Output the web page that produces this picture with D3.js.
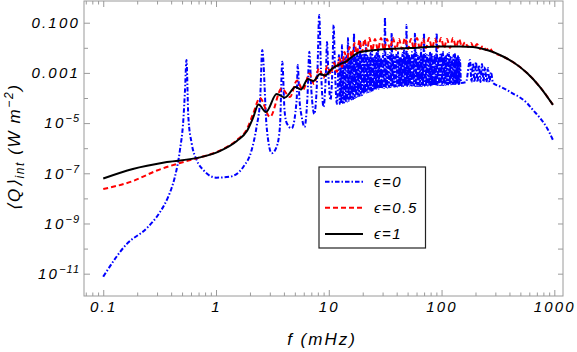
<!DOCTYPE html>
<html>
<head>
<meta charset="utf-8">
<script src="https://cdn.jsdelivr.net/npm/d3@7"></script>
<style>
	body { margin: 0; background: #fff; }
	text { font-family: "Liberation Sans", Arial, sans-serif; font-style: italic; fill: #000; }
</style>
</head>
<body>
<div id="chart"></div>
<script>
/* DATA */

// x ticks (mHz)
const freqTicks = [0.1, 1, 10, 100, 1000];
const freqTickLabels = ["0.1", "1", "10", "100", "1000"];

// y ticks (W m^-2), labelled every second decade
const powerTicks = [1e-1, 1e-3, 1e-5, 1e-7, 1e-9, 1e-11];
const powerTickBase = ["0.100", "0.001", "10", "10", "10", "10"];
const powerTickExp = ["", "", "\u22125", "\u22127", "\u22129", "\u221211"];
const powerMinor = [1e-2, 1e-4, 1e-6, 1e-8, 1e-10];

const legendNames = ["\u03f5=0", "\u03f5=0.5", "\u03f5=1"];

// eps = 0, [f (mHz), <Q>int]
const eps0 = [
	[0.1, 7.6e-12], [0.161, 1.5e-10], [0.243, 6.5e-10], [0.318, 2.8e-9],
	[0.375, 1.1e-8], [0.404, 2.6e-8], [0.433, 7.5e-8], [0.479, 8.5e-7],
	[0.513, 1.33e-5], [0.531, 2.08e-4], [0.547, 3.3e-3], [0.568, 1.8e-5],
	[0.608, 1.57e-6], [0.673, 3.4e-7], [0.771, 1.35e-7], [1.01, 6.7e-8],
	[1.33, 7.3e-8], [1.75, 1.83e-7], [2.07, 8.5e-7], [2.29, 7.2e-6],
	[2.46, 8.3e-5], [2.57, 8.2e-3], [2.81, 7.2e-6], [3.12, 6.3e-7],
	[3.45, 1.15e-6], [3.69, 7.2e-6], [3.87, 2.8e-3], [4.05, 3.3e-5],
	[4.24, 9.8e-6], [4.69, 6.2e-6], [5.19, 8.3e-5], [5.3, 2.06e-3],
	[5.5, 8.3e-5], [5.75, 1.8e-5], [6.09, 7.0e-6], [6.48, 1.32e-4],
	[6.72, 7.0e-3], [7.0, 2.08e-4], [7.44, 2.3e-5], [7.94, 1.31e-3],
	[8.22, 0.203], [8.53, 1.31e-3], [8.98, 4.4e-5], [9.45, 1.31e-3],
	[9.64, 0.017], [9.93, 8.2e-4], [10.35, 8.3e-5], [10.8, 2.06e-3],
	[11.04, 0.081], [11.35, 1.31e-3], [11.8, 5.8e-5],
	[12.32, 5.2e-3], [12.51, 5.8e-5], [12.7, 2.7e-3], [12.9, 6.0e-5],
	[13.09, 0.0129], [13.3, 6.3e-5], [13.5, 3.3e-3], [13.71, 6.6e-5],
	[13.92, 3.9e-3], [14.13, 6.8e-5], [14.35, 4.7e-3], [14.57, 7.2e-5],
	[14.8, 0.0246], [15.03, 7.8e-5], [15.26, 3.3e-3], [15.5, 8.3e-5],
	[15.73, 6.8e-3], [15.98, 8.8e-5], [16.23, 3.9e-3], [16.48, 9.1e-5],
	[16.73, 0.039], [16.99, 1.0e-4], [17.25, 4.7e-3], [17.52, 1.1e-4],
	[17.79, 9.8e-3], [18.06, 1.15e-4], [18.34, 4.3e-3], [18.62, 1.2e-4],
	[18.91, 0.0205], [19.2, 1.26e-4], [19.5, 5.7e-3], [19.8, 1.32e-4],
	[20.11, 5.2e-3], [20.42, 1.45e-4], [20.73, 6.8e-3], [21.05, 1.58e-4],
	[21.38, 0.0129], [21.71, 1.65e-4], [22.04, 4.7e-3], [22.38, 1.73e-4],
	[22.73, 3.9e-3], [23.08, 1.8e-4], [23.43, 6.2e-3], [23.79, 1.9e-4],
	[24.16, 8.2e-3], [24.54, 2.0e-4], [24.92, 4.3e-3], [25.3, 2.08e-4],
	[25.69, 4.7e-3], [26.09, 2.2e-4], [26.49, 6.2e-3], [26.9, 2.3e-4],
	[27.31, 9.8e-3], [27.73, 2.35e-4], [28.16, 4.7e-3], [28.6, 2.4e-4],
	[29.04, 3.9e-3], [29.6, 2.45e-4], [30.25, 5.7e-3], [30.9, 2.5e-4],
	[31.5, 0.169], [32.0, 2.55e-4], [32.48, 4.3e-3], [33.0, 2.6e-4],
	[33.5, 5.2e-3], [34.2, 2.7e-4], [34.89, 6.2e-3], [35.5, 2.74e-4],
	[36.13, 0.039], [36.7, 2.74e-4], [37.33, 5.2e-3], [38.0, 2.8e-4],
	[38.65, 4.3e-3], [39.25, 2.87e-4], [39.86, 5.7e-3], [40.5, 2.87e-4],
	[41.1, 6.8e-3], [41.7, 2.87e-4], [42.36, 4.3e-3], [43.0, 2.95e-4],
	[43.69, 3.9e-3], [44.35, 3.0e-4], [45.05, 6.2e-3], [45.75, 3.0e-4],
	[46.45, 8.2e-3], [47.1, 3.0e-4], [47.7, 4.7e-3], [48.3, 3.0e-4],
	[48.89, 0.081], [49.55, 3.0e-4], [50.2, 5.7e-3], [50.8, 3.1e-4],
	[51.43, 5.2e-3], [52.2, 3.15e-4], [53.03, 4.3e-3], [53.85, 3.15e-4],
	[54.68, 6.8e-3], [55.5, 3.15e-4], [56.38, 5.2e-3], [57.25, 3.1e-4],
	[58.13, 0.039], [59.0, 3.0e-4], [59.94, 6.2e-3], [60.85, 3.0e-4],
	[61.8, 4.7e-3], [62.75, 3.0e-4], [63.72, 4.3e-3], [64.7, 3.0e-4],
	[65.7, 8.2e-3], [66.7, 3.0e-4], [67.75, 5.2e-3], [68.8, 3.0e-4],
	[69.85, 0.039], [70.9, 3.0e-4], [72.02, 5.7e-3], [73.1, 3.1e-4],
	[74.26, 5.2e-3], [75.4, 3.15e-4], [76.57, 4.7e-3], [77.75, 3.15e-4],
	[78.95, 6.8e-3], [80.15, 3.15e-4], [81.4, 6.2e-3], [82.65, 3.15e-4],
	[83.95, 4.3e-3], [85.5, 3.15e-4], [87.1, 5.2e-3], [88.8, 3.2e-4],
	[90.56, 0.039], [92.0, 3.3e-4], [93.57, 4.3e-3], [95.2, 3.3e-4],
	[96.87, 5.2e-3], [98.35, 3.3e-4], [99.88, 6.2e-3], [101.4, 3.3e-4],
	[103.0, 6.8e-3], [104.6, 3.3e-4], [106.2, 4.7e-3], [107.8, 3.4e-4],
	[109.5, 4.7e-3], [111.2, 3.45e-4], [112.9, 5.7e-3], [114.6, 3.45e-4],
	[116.4, 6.2e-3], [118.2, 3.45e-4], [120.1, 4.3e-3], [121.9, 3.5e-4],
	[123.8, 3.9e-3], [125.7, 3.6e-4], [127.6, 5.2e-3], [129.6, 3.6e-4],
	[131.6, 5.7e-3], [133.6, 3.6e-4], [135.7, 4.3e-3], [137.8, 3.6e-4],
	[139.9, 4.7e-3], [141.3, 3.6e-4], [142.8, 3.9e-3], [144.2, 3.7e-4],
	[145.7, 3.3e-3], [148.8, 4.0e-4], [164.8, 4.3e-4], [178.8, 3.3e-3],
	[184.4, 4.3e-4], [190.1, 2.5e-3], [196.0, 4.3e-4], [202.1, 2.7e-3],
	[208.4, 4.3e-4], [214.8, 2.06e-3], [221.5, 4.3e-4], [228.4, 2.26e-3],
	[235.5, 4.3e-4], [242.8, 1.72e-3], [250.3, 4.3e-4], [258.1, 1.57e-3],
	[266.2, 4.3e-4], [274.4, 1.09e-3], [285.9, 4.0e-4], [329.9, 2.87e-4],
	[380.6, 2.08e-4], [430.1, 1.51e-4], [496.3, 1.05e-4], [572.5, 6.3e-5],
	[647.1, 3.3e-5], [746.6, 1.6e-5], [861.4, 6.4e-6], [973.6, 2.1e-6]
];

// eps = 0.5
const eps05 = [
	[0.1, 2.37e-8], [0.183, 4.9e-8], [0.299, 1.29e-7], [0.479, 2.57e-7],
	[0.72, 4.3e-7], [1.08, 8.0e-7], [1.53, 2.12e-6], [1.88, 5.8e-6],
	[2.13, 2.3e-5], [2.45, 1.0e-4], [3.01, 1.75e-5], [3.82, 2.39e-4],
	[4.53, 1.1e-4], [5.22, 4.98e-4], [5.9, 2.08e-4], [6.75, 9.5e-4],
	[7.39, 3.6e-4], [8.18, 1.5e-3], [8.97, 6.3e-4], [9.73, 1.88e-3],
	[10.4, 9.0e-4], [11.1, 2.48e-3], [11.82, 1.09e-3], [12.44, 3.9e-3],
	[13.09, 1.72e-3], [13.78, 6.8e-3], [14.5, 2.7e-3], [15.26, 0.0108],
	[16.06, 4.3e-3], [16.9, 0.0155], [17.79, 5.7e-3], [18.72, 0.0205],
	[19.7, 6.8e-3], [20.73, 0.0224], [21.82, 7.5e-3], [22.96, 0.0246],
	[24.16, 7.5e-3], [25.69, 0.0224], [27.31, 8.2e-3], [29.04, 0.0246],
	[30.87, 8.2e-3], [32.81, 0.0224], [34.89, 9.0e-3], [37.09, 0.0246],
	[39.43, 8.2e-3], [41.93, 0.0224], [44.57, 9.0e-3], [47.39, 0.0246],
	[50.4, 9.0e-3], [53.58, 0.0224], [56.96, 9.0e-3], [60.56, 0.0246],
	[64.38, 9.0e-3], [68.45, 0.0224], [72.78, 9.8e-3], [77.37, 0.0246],
	[82.26, 9.8e-3], [87.46, 0.0224], [92.99, 9.8e-3], [98.87, 0.0246],
	[105.1, 9.8e-3], [111.8, 0.0224], [118.8, 9.8e-3], [126.3, 0.0246],
	[134.3, 0.0108], [142.8, 0.0224], [151.8, 0.0108], [161.4, 0.017],
	[171.6, 0.0108], [182.5, 0.0155], [194.0, 9.8e-3], [206.2, 0.0142],
	[219.3, 9.0e-3], [233, 0.0118], [247.9, 8.2e-3], [263.6, 9.8e-3],
	[286, 6.8e-3], [351, 4.5e-3], [430, 2.7e-3], [573, 9.9e-4],
	[747, 2.74e-4], [973, 5.3e-5]
];

// eps = 1
const eps1 = [
	[0.1, 6.2e-8], [0.183, 1.48e-7], [0.367, 2.8e-7], [0.72, 4.3e-7],
	[1.08, 7.7e-7], [1.53, 1.94e-6], [1.88, 4.8e-6], [2.13, 1.6e-5],
	[2.38, 5.5e-5], [2.77, 2.77e-5], [3.45, 1.44e-4], [4.09, 1.05e-4],
	[5.07, 2.74e-4], [5.66, 2.18e-4], [6.54, 5.7e-4], [7.31, 4.75e-4],
	[8.36, 9.0e-4], [9.25, 7.9e-4], [10.6, 1.43e-3], [12.6, 2.26e-3],
	[14.5, 2.98e-3], [16.4, 4.7e-3], [18.9, 6.8e-3], [28.4, 8.55e-3],
	[52.5, 9.8e-3], [96.9, 1.13e-2], [146, 1.13e-2], [190, 1.08e-2],
	[233, 8.95e-3], [286, 6.8e-3], [351, 4.5e-3], [430, 2.72e-3],
	[573, 9.9e-4], [747, 2.74e-4], [973, 5.3e-5]
];

/* SET UP */

const w = 577;
const h = 352;
const m = { top: 1, right: 14, bottom: 56, left: 84 };
const frameColor = "#9a9a9a";

const svg = d3
	.select("#chart")
	.append("svg")
	.attr("width", w)
	.attr("height", h);

const x = d3.scaleLog().domain([0.0675, 1194]).range([m.left, w - m.right]);
const y = d3.scaleLog().domain([1.29e-12, 0.733]).range([h - m.bottom, m.top]);

const x0 = m.left, x1 = w - m.right, y0 = h - m.bottom, y1 = m.top;

/* AXES */

function tidy(g) {
	g.select(".domain").remove();
	g.selectAll("line").attr("stroke", frameColor);
}

const xMinor = x.ticks().filter((d) => !freqTicks.includes(d));

// bottom
svg.append("g")
	.attr("transform", `translate(0,${y0})`)
	.call(d3.axisBottom(x).tickValues(xMinor).tickSizeInner(-3.5).tickSizeOuter(0).tickFormat(""))
	.call(tidy);

svg.append("g")
	.attr("transform", `translate(0,${y0})`)
	.call(d3.axisBottom(x).tickValues(freqTicks).tickSizeInner(-6).tickSizeOuter(0).tickPadding(5)
		.tickFormat((d, i) => freqTickLabels[i]))
	.call(tidy)
	.call((g) => g.selectAll("text")
		.attr("font-size", 15)
		.attr("letter-spacing", 2.2)
		.attr("fill", "#000")
		.attr("font-family", null));

// top
svg.append("g")
	.attr("transform", `translate(0,${y1})`)
	.call(d3.axisTop(x).tickValues(xMinor).tickSizeInner(-3.5).tickSizeOuter(0).tickFormat(""))
	.call(tidy);
svg.append("g")
	.attr("transform", `translate(0,${y1})`)
	.call(d3.axisTop(x).tickValues(freqTicks).tickSizeInner(-6).tickSizeOuter(0).tickFormat(""))
	.call(tidy);

// left
svg.append("g")
	.attr("transform", `translate(${x0},0)`)
	.call(d3.axisLeft(y).tickValues(powerMinor).tickSizeInner(-4).tickSizeOuter(0).tickFormat(""))
	.call(tidy);
svg.append("g")
	.attr("transform", `translate(${x0},0)`)
	.call(d3.axisLeft(y).tickValues(powerTicks).tickSizeInner(-6).tickSizeOuter(0).tickFormat(""))
	.call(tidy);

// right
svg.append("g")
	.attr("transform", `translate(${x1},0)`)
	.call(d3.axisRight(y).tickValues(powerTicks.concat(powerMinor)).tickSizeInner(-5).tickSizeOuter(0).tickFormat(""))
	.call(tidy);

// y tick labels with superscripts
const yLab = svg.append("g")
	.selectAll("text")
	.data(powerTicks)
	.join("text")
	.attr("x", x0 - 4)
	.attr("y", (d) => y(d))
	.attr("dy", "0.36em")
	.attr("text-anchor", "end")
	.attr("font-size", 15)
	.attr("letter-spacing", 2.2);

yLab.append("tspan").text((d, i) => powerTickBase[i]);
yLab.append("tspan")
	.attr("dy", -6)
	.attr("font-size", 11)
	.attr("letter-spacing", 1)
	.text((d, i) => powerTickExp[i]);

// frame
svg.append("rect")
	.attr("x", x0)
	.attr("y", y1)
	.attr("width", x1 - x0)
	.attr("height", y0 - y1)
	.attr("fill", "none")
	.attr("stroke", frameColor)
	.attr("stroke-width", 1);

/* LINES */

svg.append("clipPath")
	.attr("id", "clip")
	.append("rect")
	.attr("x", x0)
	.attr("y", y1)
	.attr("width", x1 - x0)
	.attr("height", y0 - y1);

const line = d3.line()
	.x((d) => x(d[0]))
	.y((d) => y(d[1]))
	.curve(d3.curveMonotoneX);

const series = [
	{ data: eps0, color: "#0000ff", dash: "4.5,2,1.5,2", width: 2 },
	{ data: eps05, color: "#ff0000", dash: "5,3", width: 2 },
	{ data: eps1, color: "#000000", dash: null, width: 2 }
];

svg.append("g")
	.attr("clip-path", "url(#clip)")
	.selectAll("path")
	.data(series)
	.join("path")
	.attr("d", (s) => line(s.data))
	.attr("fill", "none")
	.attr("stroke", (s) => s.color)
	.attr("stroke-width", (s) => s.width)
	.attr("stroke-dasharray", (s) => s.dash);

/* AXIS TITLES */

svg.append("text")
	.attr("x", 322)
	.attr("y", 345)
	.attr("text-anchor", "middle")
	.attr("font-size", 17)
	.attr("letter-spacing", 2)
	.text("f (mHz)");

const yTitle = svg.append("text")
	.attr("transform", "translate(20,147) rotate(-90)")
	.attr("text-anchor", "middle")
	.attr("font-size", 17)
	.attr("letter-spacing", 1.6);
yTitle.append("tspan").text("\u27e8Q\u27e9");
yTitle.append("tspan").attr("font-size", 12).attr("dy", 4).text("int");
yTitle.append("tspan").attr("dy", -4).text(" (W m");
yTitle.append("tspan").attr("font-size", 12).attr("dy", -7).text("\u22122");
yTitle.append("tspan").attr("dy", 7).text(")");

/* LEGEND */

const legend = svg.append("g");
legend.append("rect")
	.attr("x", 319)
	.attr("y", 167)
	.attr("width", 106.5)
	.attr("height", 81)
	.attr("fill", "#fff")
	.attr("stroke", "#222")
	.attr("stroke-width", 1.2);

const rows = legend.selectAll(".row")
	.data(series)
	.join("g")
	.attr("class", "row")
	.attr("transform", (d, i) => `translate(0,${181.7 + i * 26.1})`);

rows.append("line")
	.attr("x1", 325)
	.attr("x2", 363)
	.attr("stroke", (s) => s.color)
	.attr("stroke-width", (s) => s.width)
	.attr("stroke-dasharray", (s) => s.dash);

rows.append("text")
	.attr("x", 374)
	.attr("dy", "0.36em")
	.attr("font-size", 15)
	.attr("letter-spacing", 1.5)
	.text((d, i) => legendNames[i]);
</script>
</body>
</html>
